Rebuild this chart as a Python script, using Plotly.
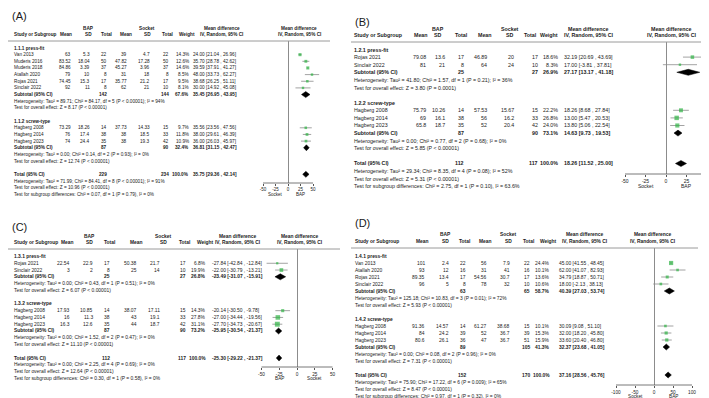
import plotly.graph_objects as go

W, H = 709, 398
FONT = "Arial, Liberation Sans, sans-serif"
GREEN = "#2fb344"
TXT = "#1a1a1a"

# ---------------- Panel A (1.1) ----------------
A_groups = ["1.1.1 press-fit", "1.1.2 screw-type"]
A_study = ["Van 2013", "Muderis 2016", "Muderis 2018", "Atallah 2020", "Rojas 2021", "Sinclair 2022",
           "Hagberg 2008", "Hagberg 2014", "Hagberg 2023"]
A_group_of = [0, 0, 0, 0, 0, 0, 1, 1, 1]
A_bap_mean = [63, 83.52, 84.86, 79, 74.45, 92, 73.29, 76, 74]
A_bap_sd = [5.3, 18.04, 3.39, 10, 15.3, 11, 18.26, 17.4, 24.4]
A_bap_n = [22, 50, 37, 8, 17, 8, 14, 38, 35]
A_sock_mean = [39, 47.82, 45.27, 31, 35.77, 62, 37.73, 38, 38]
A_sock_sd = [4.7, 17.28, 3.96, 18, 21.2, 21, 14.33, 18.5, 19.3]
A_sock_n = [22, 50, 37, 8, 17, 10, 15, 33, 42]
A_weight = [14.3, 12.6, 14.6, 8.5, 9.5, 8.1, 9.7, 11.8, 10.9]
A_md = [24.00, 35.70, 39.59, 48.00, 38.68, 30.00, 35.56, 38.00, 36.00]
A_lo = [21.04, 28.78, 37.91, 33.73, 26.25, 14.92, 23.56, 29.61, 26.03]
A_hi = [26.96, 42.62, 41.27, 62.27, 51.11, 45.08, 47.56, 46.39, 45.97]
A_sub_bap_n = [142, 87]
A_sub_sock_n = [144, 90]
A_sub_weight = [67.6, 32.4]
A_sub_md = [35.45, 36.81]
A_sub_lo = [26.95, 31.15]
A_sub_hi = [43.95, 42.47]
A_sub_het = ["Heterogeneity: Tau² = 89.71; Chi² = 84.17, df = 5 (P < 0.00001); I² = 94%",
             "Heterogeneity: Tau² = 0.00; Chi² = 0.14, df = 2 (P = 0.93); I² = 0%"]
A_sub_z = ["Test for overall effect: Z = 8.17 (P < 0.00001)",
           "Test for overall effect: Z = 12.74 (P < 0.00001)"]
A_total_n = [229, 234]
A_total_ci = [35.75, 29.36, 42.14]
A_total_notes = ["Heterogeneity: Tau² = 71.99; Chi² = 84.41, df = 8 (P < 0.00001); I² = 91%",
                 "Test for overall effect: Z = 10.96 (P < 0.00001)",
                 "Test for subgroup differences: Chi² = 0.07, df = 1 (P = 0.79), I² = 0%"]
A_ticks = [-50, -25, 0, 25, 50]
A_favours = ["Socket", "BAP"]

# ---------------- Panel B (1.2) ----------------
B_groups = ["1.2.1 press-fit", "1.2.2 screw-type"]
B_study = ["Rojas 2021", "Sinclair 2022", "Hagberg 2008", "Hagberg 2014", "Hagberg 2023"]
B_group_of = [0, 0, 1, 1, 1]
B_bap_mean = [79.08, 81, 75.79, 69, 65.8]
B_bap_sd = [13.6, 21, 10.26, 16.1, 18.7]
B_bap_n = [17, 8, 14, 38, 35]
B_sock_mean = [46.89, 64, 57.53, 56, 52]
B_sock_sd = [20, 24, 15.67, 16.2, 20.4]
B_sock_n = [17, 10, 15, 33, 42]
B_weight = [18.6, 8.3, 22.2, 26.8, 24.0]
B_md = [32.19, 17.00, 18.26, 13.00, 13.80]
B_lo = [20.69, -3.81, 8.68, 5.47, 5.06]
B_hi = [43.69, 37.81, 27.84, 20.53, 22.54]
B_sub_bap_n = [25, 87]
B_sub_sock_n = [27, 90]
B_sub_weight = [26.9, 73.1]
B_sub_md = [27.17, 14.63]
B_sub_lo = [13.17, 9.73]
B_sub_hi = [41.18, 19.53]
B_sub_het = ["Heterogeneity: Tau² = 41.80; Chi² = 1.57, df = 1 (P = 0.21); I² = 36%",
             "Heterogeneity: Tau² = 0.00; Chi² = 0.77, df = 2 (P = 0.68); I² = 0%"]
B_sub_z = ["Test for overall effect: Z = 3.80 (P = 0.0001)",
           "Test for overall effect: Z = 5.85 (P < 0.00001)"]
B_total_n = [112, 117]
B_total_ci = [18.26, 11.52, 25.00]
B_total_notes = ["Heterogeneity: Tau² = 29.34; Chi² = 8.35, df = 4 (P = 0.08); I² = 52%",
                 "Test for overall effect: Z = 5.31 (P < 0.00001)",
                 "Test for subgroup differences: Chi² = 2.75, df = 1 (P = 0.10), I² = 63.6%"]
B_ticks = [-50, -25, 0, 25, 50]
B_favours = ["Socket", "BAP"]

# ---------------- Panel C (1.3) ----------------
C_groups = ["1.3.1 press-fit", "1.3.2 screw-type"]
C_study = ["Rojas 2021", "Sinclair 2022", "Hagberg 2008", "Hagberg 2014", "Hagberg 2023"]
C_group_of = [0, 0, 1, 1, 1]
C_bap_mean = [22.54, 3, 17.93, 16, 16.3]
C_bap_sd = [22.9, 2, 10.85, 11.3, 12.6]
C_bap_n = [17, 8, 14, 38, 35]
C_sock_mean = [50.38, 25, 38.07, 43, 44]
C_sock_sd = [21.7, 14, 17.11, 19.1, 18.7]
C_sock_n = [17, 10, 15, 33, 42]
C_weight = [6.8, 19.9, 14.3, 27.8, 31.1]
C_md = [-27.84, -22.00, -20.14, -27.00, -27.70]
C_lo = [-42.84, -30.79, -30.50, -34.44, -34.73]
C_hi = [-12.84, -13.21, -9.78, -19.56, -20.67]
C_sub_bap_n = [25, 87]
C_sub_sock_n = [27, 90]
C_sub_weight = [26.8, 73.2]
C_sub_md = [-23.49, -25.95]
C_sub_lo = [-31.07, -30.54]
C_sub_hi = [-15.91, -21.37]
C_sub_het = ["Heterogeneity: Tau² = 0.00; Chi² = 0.43, df = 1 (P = 0.51); I² = 0%",
             "Heterogeneity: Tau² = 0.00; Chi² = 1.52, df = 2 (P = 0.47); I² = 0%"]
C_sub_z = ["Test for overall effect: Z = 6.07 (P < 0.00001)",
           "Test for overall effect: Z = 11.10 (P < 0.00001)"]
C_total_n = [112, 117]
C_total_ci = [-25.30, -29.22, -21.37]
C_total_notes = ["Heterogeneity: Tau² = 0.00; Chi² = 2.25, df = 4 (P = 0.69); I² = 0%",
                 "Test for overall effect: Z = 12.64 (P < 0.00001)",
                 "Test for subgroup differences: Chi² = 0.30, df = 1 (P = 0.58), I² = 0%"]
C_ticks = [-50, -25, 0, 25, 50]
C_favours = ["BAP", "Socket"]

# ---------------- Panel D (1.4) ----------------
D_groups = ["1.4.1 press-fit", "1.4.2 screw-type"]
D_study = ["Van 2013", "Atallah 2020", "Rojas 2021", "Sinclair 2022",
           "Hagberg 2008", "Hagberg 2014", "Hagberg 2023"]
D_group_of = [0, 0, 0, 0, 1, 1, 1]
D_bap_mean = [101, 93, 89.35, 96, 91.36, 84, 80.6]
D_bap_sd = [2.4, 12, 13.4, 5, 14.57, 24.2, 26.1]
D_bap_n = [22, 16, 17, 8, 14, 39, 36]
D_sock_mean = [56, 31, 54.56, 78, 61.27, 52, 47]
D_sock_sd = [7.9, 41, 30.7, 32, 38.68, 36.7, 36.7]
D_sock_n = [22, 16, 17, 10, 15, 39, 51]
D_weight = [24.4, 10.1, 13.6, 10.6, 10.1, 15.3, 15.9]
D_md = [45.00, 62.00, 34.79, 18.00, 30.09, 32.00, 33.60]
D_lo = [41.55, 41.07, 18.87, -2.13, 9.08, 18.20, 20.40]
D_hi = [48.45, 82.93, 50.71, 38.13, 51.10, 45.80, 46.80]
D_sub_bap_n = [63, 89]
D_sub_sock_n = [65, 105]
D_sub_weight = [58.7, 41.3]
D_sub_md = [40.39, 32.37]
D_sub_lo = [27.03, 23.68]
D_sub_hi = [53.74, 41.05]
D_sub_het = ["Heterogeneity: Tau² = 125.18; Chi² = 10.83, df = 3 (P = 0.01); I² = 72%",
             "Heterogeneity: Tau² = 0.00; Chi² = 0.08, df = 2 (P = 0.96); I² = 0%"]
D_sub_z = ["Test for overall effect: Z = 5.93 (P < 0.00001)",
           "Test for overall effect: Z = 7.31 (P < 0.00001)"]
D_total_n = [152, 170]
D_total_ci = [37.16, 28.56, 45.76]
D_total_notes = ["Heterogeneity: Tau² = 75.90; Chi² = 17.22, df = 6 (P = 0.009); I² = 65%",
                 "Test for overall effect: Z = 8.47 (P < 0.00001)",
                 "Test for subgroup differences: Chi² = 0.97, df = 1 (P = 0.32), I² = 0%"]
D_ticks = [-100, -50, 0, 50, 100]
D_favours = ["Socket", "BAP"]

# ---------------- layout specs (pixels) ----------------
SPECS = [
    dict(label="(A)", title=(3, 8), hdr1=20, hdr2=26.5, line_y=33, line_x=(0, 322), x0=5,
         r0=40, dy=6.65, axis_y=175, zero=280, scale=0.5, R=70, fs=4.7, tfs=4.5, fav_dy=11,
         cols=dict(mb=64, sb=83, nb=100, ms=120, ss=143, ns=162, w=182, ci=184),
         hc=dict(mb=58, sb=80, nb=98, ms=118, ss=139, ns=159, w=179, ci=214, fp=291)),
    dict(label="(B)", title=(346, 14), hdr1=21, hdr2=27.5, line_y=34, line_x=(343, 705), x0=345,
         r0=41.5, dy=7.6, axis_y=166, zero=658, scale=0.82, R=58, fs=5.3, tfs=5.0, fav_dy=11.5,
         cols=dict(mb=419, sb=438, nb=457, ms=480, ss=507, ns=531, w=551, ci=555),
         hc=dict(mb=413, sb=430, nb=453, ms=477, ss=502, ns=522, w=541, ci=580, fp=663)),
    dict(label="(C)", title=(3, 219), hdr1=228, hdr2=235, line_y=241, line_x=(0, 332), x0=5,
         r0=248.5, dy=6.77, axis_y=359, zero=289, scale=0.71, R=60, fs=4.9, tfs=4.7, fav_dy=11,
         cols=dict(mb=63, sb=86, nb=103, ms=130, ss=153, ns=179, w=199, ci=203),
         hc=dict(mb=60, sb=81, nb=102, ms=128, ss=155, ns=177, w=197, ci=230, fp=292)),
    dict(label="(D)", title=(346, 215), hdr1=226, hdr2=233, line_y=240, line_x=(343, 690), x0=346,
         r0=248, dy=7.0, axis_y=377, zero=646, scale=0.38, R=110, fs=4.9, tfs=4.7, fav_dy=11,
         cols=dict(mb=418, sb=442, nb=459, ms=480, ss=503, ns=523, w=543, ci=550),
         hc=dict(mb=414, sb=437, nb=457, ms=478, ss=500, ns=521, w=540, ci=577, fp=645)),
]

PANELS = []
for P in "ABCD":
    g = globals()
    PANELS.append(dict(
        groups=g[P + "_groups"], study=g[P + "_study"], grp=g[P + "_group_of"],
        bm=g[P + "_bap_mean"], bs=g[P + "_bap_sd"], bn=g[P + "_bap_n"],
        sm=g[P + "_sock_mean"], ss=g[P + "_sock_sd"], sn=g[P + "_sock_n"],
        w=g[P + "_weight"], md=g[P + "_md"], lo=g[P + "_lo"], hi=g[P + "_hi"],
        sbn=g[P + "_sub_bap_n"], ssn=g[P + "_sub_sock_n"], sw=g[P + "_sub_weight"],
        smd=g[P + "_sub_md"], slo=g[P + "_sub_lo"], shi=g[P + "_sub_hi"],
        shet=g[P + "_sub_het"], sz=g[P + "_sub_z"],
        tn=g[P + "_total_n"], tci=g[P + "_total_ci"], tnotes=g[P + "_total_notes"],
        ticks=g[P + "_ticks"], fav=g[P + "_favours"]))

fig = go.Figure()
ann = []
shapes = []


def fmt(v):
    return f"{v:g}"


def ci_text(m, l, h):
    return f"{m:.2f} [{l:.2f} , {h:.2f}]"


for k, (D, S) in enumerate(zip(PANELS, SPECS)):
    xn = "x" if k == 0 else f"x{k + 1}"
    yn = "y" if k == 0 else f"y{k + 1}"
    xkey = "xaxis" if k == 0 else f"xaxis{k + 1}"
    ykey = "yaxis" if k == 0 else f"yaxis{k + 1}"
    fs = S["fs"]
    C = S["cols"]
    HC = S["hc"]

    def T(s, xpx, ypx, anchor="left", bold=False, size=None, xref="paper", xval=None):
        ann.append(dict(text=(f"<b>{s}</b>" if bold else s),
                        x=(xval if xval is not None else xpx / W), xref=xref,
                        y=1 - ypx / H, yref="paper", xanchor=anchor, yanchor="middle",
                        showarrow=False, borderpad=0,
                        font=dict(size=size or fs, color=TXT, family=FONT)))

    def RY(r):
        return S["r0"] + r * S["dy"]

    # title and headers
    T(S["label"], S["title"][0], S["title"][1], "left", size=11)
    T("BAP", HC["sb"], S["hdr1"], "center", True)
    T("Socket", HC["ss"], S["hdr1"], "center", True)
    T("Mean difference", HC["ci"], S["hdr1"], "center", True)
    T("Mean difference", HC["fp"], S["hdr1"], "center", True)
    T("Study or Subgroup", S["x0"], S["hdr2"], "left", True)
    for key, lab in [("mb", "Mean"), ("sb", "SD"), ("nb", "Total"), ("ms", "Mean"),
                     ("ss", "SD"), ("ns", "Total"), ("w", "Weight")]:
        T(lab, HC[key], S["hdr2"], "center", True)
    T("IV, Random, 95% CI", HC["ci"], S["hdr2"], "center", True)
    T("IV, Random, 95% CI", HC["fp"], S["hdr2"], "center", True)
    shapes.append(dict(type="line", xref="paper", yref="paper",
                       x0=S["line_x"][0] / W, x1=S["line_x"][1] / W,
                       y0=1 - S["line_y"] / H, y1=1 - S["line_y"] / H,
                       line=dict(color="#9a9a9a", width=1)))

    # rows
    r = 0
    st_rows, st_idx = [], []
    dia = []
    for gi, gname in enumerate(D["groups"]):
        T(gname, S["x0"], RY(r), "left", True)
        r += 1
        for i, gg in enumerate(D["grp"]):
            if gg != gi:
                continue
            y = RY(r)
            T(D["study"][i], S["x0"], y)
            T(fmt(D["bm"][i]), C["mb"], y, "right")
            T(fmt(D["bs"][i]), C["sb"], y, "right")
            T(fmt(D["bn"][i]), C["nb"], y, "right")
            T(fmt(D["sm"][i]), C["ms"], y, "right")
            T(fmt(D["ss"][i]), C["ss"], y, "right")
            T(fmt(D["sn"][i]), C["ns"], y, "right")
            T(f"{D['w'][i]:.1f}%", C["w"], y, "right")
            T(ci_text(D["md"][i], D["lo"][i], D["hi"][i]), C["ci"], y, "left")
            st_rows.append(r)
            st_idx.append(i)
            r += 1
        y = RY(r)
        T("Subtotal (95% CI)", S["x0"], y, "left", True)
        T(fmt(D["sbn"][gi]), C["nb"], y, "right", True)
        T(fmt(D["ssn"][gi]), C["ns"], y, "right", True)
        T(f"{D['sw'][gi]:.1f}%", C["w"], y, "right", True)
        T(ci_text(D["smd"][gi], D["slo"][gi], D["shi"][gi]), C["ci"], y, "left", True)
        dia.append((r, D["smd"][gi], D["slo"][gi], D["shi"][gi]))
        r += 1
        T(D["shet"][gi], S["x0"], RY(r))
        r += 1
        T(D["sz"][gi], S["x0"], RY(r))
        r += 2
    y = RY(r)
    T("Total (95% CI)", S["x0"], y, "left", True)
    T(fmt(D["tn"][0]), C["nb"], y, "right", True)
    T(fmt(D["tn"][1]), C["ns"], y, "right", True)
    T("100.0%", C["w"], y, "right", True)
    T(ci_text(*D["tci"]), C["ci"], y, "left", True)
    dia.append((r, D["tci"][0], D["tci"][1], D["tci"][2]))
    r += 1
    for note in D["tnotes"]:
        T(note, S["x0"], RY(r))
        r += 1

    # forest: study squares with CI
    md = [D["md"][i] for i in st_idx]
    lo = [D["lo"][i] for i in st_idx]
    hi = [D["hi"][i] for i in st_idx]
    wt = [D["w"][i] for i in st_idx]
    fig.add_trace(go.Scatter(
        x=md, y=st_rows, xaxis=xn, yaxis=yn, mode="markers", cliponaxis=False,
        marker=dict(symbol="square", color=GREEN, size=[1.5 + 0.11 * w for w in wt], line=dict(width=0)),
        error_x=dict(type="data", symmetric=False,
                     array=[h - m for h, m in zip(hi, md)],
                     arrayminus=[m - l for m, l in zip(md, lo)],
                     color="#8c8c8c", thickness=0.8, width=0),
        showlegend=False, hoverinfo="skip"))
    hh = 3.0 / S["dy"]
    dx, dyv = [], []
    for (rr, m, l, h) in dia:
        dx += [l, m, h, m, l, None]
        dyv += [rr, rr - hh, rr, rr + hh, rr, None]
    fig.add_trace(go.Scatter(x=dx, y=dyv, xaxis=xn, yaxis=yn, mode="lines", fill="toself",
                             fillcolor="black", line=dict(color="black", width=0.5),
                             showlegend=False, hoverinfo="skip"))

    # favours labels under the axis
    ticks = D["ticks"]
    T(D["fav"][0], 0, S["axis_y"] + S["fav_dy"], "center", size=S["tfs"], xref=xn, xval=ticks[1])
    T(D["fav"][1], 0, S["axis_y"] + S["fav_dy"], "center", size=S["tfs"], xref=xn, xval=ticks[3])

    R = S["R"]
    fig.layout[xkey] = dict(
        domain=[(S["zero"] - R * S["scale"]) / W, (S["zero"] + R * S["scale"]) / W],
        range=[-R, R], anchor=yn, showgrid=False, zeroline=True, zerolinecolor="#8c8c8c",
        zerolinewidth=1, showline=False, tickmode="array", tickvals=ticks,
        ticktext=[str(t) for t in ticks], ticks="outside", ticklen=2, tickcolor="#555",
        tickwidth=0.8, tickangle=0, automargin=False,
        tickfont=dict(size=S["tfs"], color=TXT, family=FONT))
    ytop = (S["line_y"] - S["r0"]) / S["dy"]
    ybot = (S["axis_y"] - S["r0"]) / S["dy"]
    fig.layout[ykey] = dict(domain=[1 - S["axis_y"] / H, 1 - S["line_y"] / H],
                            range=[ybot, ytop], anchor=xn, visible=False)
    shapes.append(dict(type="line", xref=xn, yref=f"{yn} domain",
                       x0=ticks[0], x1=ticks[-1], y0=0, y1=0,
                       line=dict(color="#555", width=0.8)))

fig.update_layout(width=W, height=H, margin=dict(l=0, r=0, t=0, b=0),
                  paper_bgcolor="white", plot_bgcolor="white",
                  annotations=ann, shapes=shapes, showlegend=False,
                  font=dict(family=FONT, color=TXT))
fig.write_html("out.html")
